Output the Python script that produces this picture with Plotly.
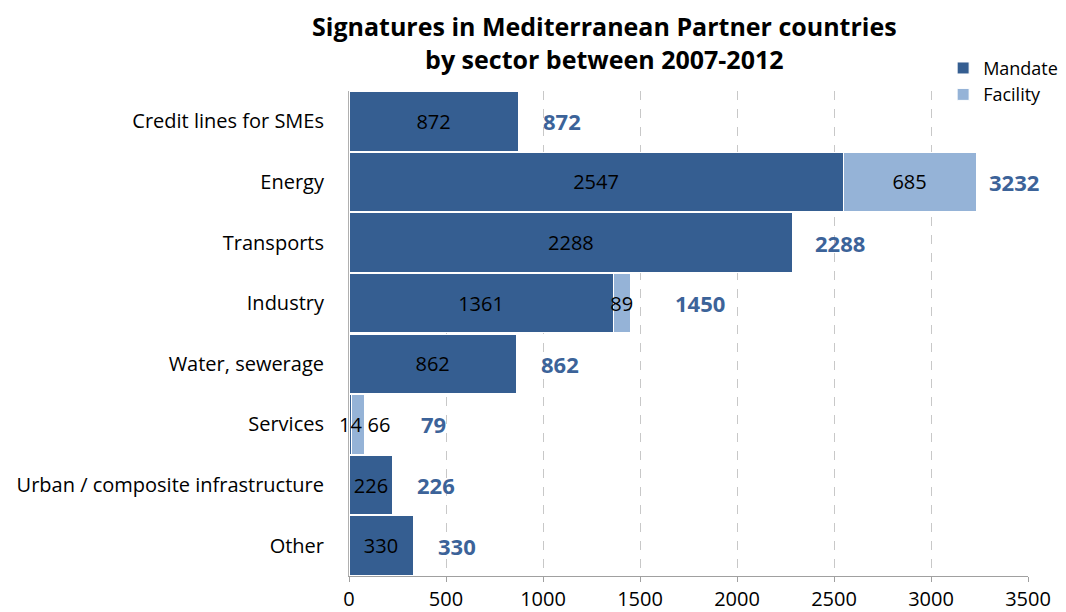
import plotly.graph_objects as go

# Data
sectors = ['Credit lines for SMEs', 'Energy', 'Transports', 'Industry',
           'Water, sewerage', 'Services', 'Urban / composite infrastructure', 'Other']
mandate = [872, 2547, 2288, 1361, 862, 14, 226, 330]
facility = [0, 685, 0, 89, 0, 66, 0, 0]
totals = [872, 3232, 2288, 1450, 862, 79, 226, 330]

mandate_color = '#355E91'
facility_color = '#95B3D7'
total_color = '#3C6399'
font_family = '"Open Sans", Lato, sans-serif'

# the page body has an 8px margin, so the figure is 8px smaller than the window
W, H = 1058, 604

fig = go.Figure()

# the tiny Services mandate label goes on top as an annotation (the facility bar would hide it)
fig.add_trace(go.Bar(
    y=sectors, x=mandate, name='Mandate', orientation='h',
    marker=dict(color=mandate_color, line=dict(color='white', width=1)),
    text=[str(v) if s != 'Services' else '' for s, v in zip(sectors, mandate)],
    textposition='inside', insidetextanchor='middle', constraintext='none',
    textfont=dict(color='black', size=20, family=font_family),
    cliponaxis=False,
))

fig.add_trace(go.Bar(
    y=sectors, x=facility, name='Facility', orientation='h',
    marker=dict(color=facility_color, line=dict(color='white', width=1)),
    text=[str(v) if v else '' for v in facility],
    textposition=['outside' if s == 'Services' else 'inside' for s in sectors],
    insidetextanchor='middle', constraintext='none',
    textfont=dict(color='black', size=20, family=font_family),
    cliponaxis=False,
))

i_srv = sectors.index('Services')
fig.add_annotation(
    x=mandate[i_srv] / 2, y=sectors[i_srv], text=str(mandate[i_srv]),
    showarrow=False, xanchor='center', yanchor='middle',
    font=dict(color='black', size=20, family=font_family),
)

# total labels to the right of each bar (Excel placed some further out)
label_shift = {'Industry': 360, 'Services': 355, 'Energy': 195, 'Transports': 245}
for s, t in zip(sectors, totals):
    fig.add_annotation(
        x=t + label_shift.get(s, 225), y=s, text='<b>%d</b>' % t,
        showarrow=False, xanchor='center', yanchor='middle',
        font=dict(color=total_color, size=22, family=font_family),
    )

# chart title
fig.add_annotation(
    xref='paper', yref='paper', x=0.377, y=1.099, xanchor='center', yanchor='middle',
    text='<b>Signatures in Mediterranean Partner countries<br>by sector between 2007-2012</b>',
    showarrow=False, font=dict(size=25, family=font_family, color='black'),
)

fig.update_layout(
    width=W, height=H,
    barmode='stack', bargap=0.02,
    plot_bgcolor='white', paper_bgcolor='white',
    margin=dict(l=341, r=38, t=83, b=36, autoexpand=False),
    font=dict(family=font_family, size=20, color='black'),
    legend=dict(
        x=0.875, y=1.085, xanchor='left', yanchor='top',
        font=dict(size=18), traceorder='normal',
        itemwidth=30, bgcolor='rgba(0,0,0,0)',
    ),
)

fig.update_xaxes(
    range=[0, 3500], dtick=500, showgrid=True, gridcolor='#C8C8C8',
    griddash='dash', gridwidth=1, showline=True, linecolor='#A0A0A0',
    ticks='outside', ticklen=5, tickcolor='#A0A0A0', zeroline=False,
    tickfont=dict(size=20), automargin=False,
)
fig.update_yaxes(
    autorange='reversed', showline=True, linecolor='#B0B0B0',
    ticks='', ticklabelstandoff=20, tickfont=dict(size=20), automargin=False,
)

fig.write_html('out.html')
